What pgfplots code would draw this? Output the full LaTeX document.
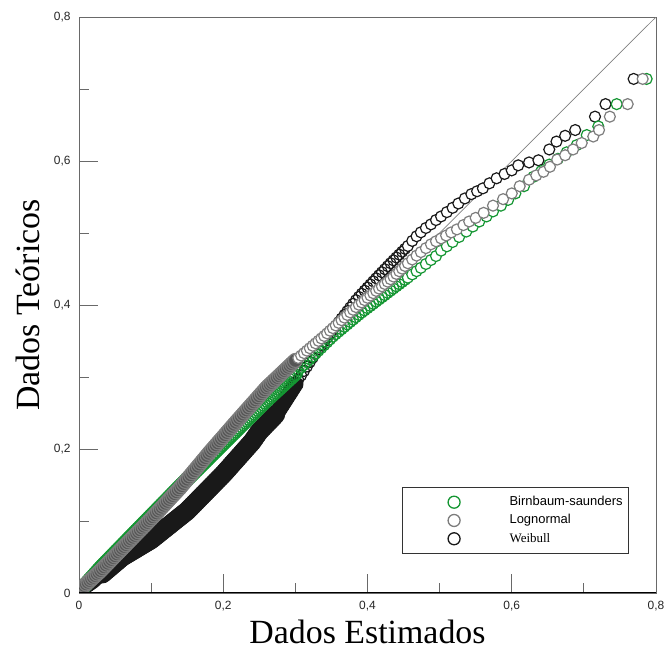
\documentclass[border=0pt]{standalone}
\usepackage{pgfplots}
\pgfplotsset{compat=1.18}
\usepackage{fontspec}
\setmainfont{Liberation Serif}
\newfontfamily\arial{Liberation Sans}
\definecolor{bsgreen}{RGB}{20,150,50}
\definecolor{lngray}{RGB}{125,125,125}
\definecolor{lndark}{RGB}{85,85,85}
\definecolor{wbblack}{RGB}{25,25,25}
\definecolor{axgray}{RGB}{105,105,105}
\begin{document}
\begin{tikzpicture}
\useasboundingbox (0,0) rectangle (665bp,651bp);
\begin{axis}[
  at={(79bp,58bp)}, anchor=south west,
  scale only axis, width=577bp, height=576bp,
  xmin=0, xmax=0.8, ymin=0, ymax=0.8,
  axis line style={color=axgray, line width=1bp},
  tick pos=left, tick align=inside,
  xtick={0,0.2,0.4,0.6,0.8}, ytick={0,0.2,0.4,0.6,0.8},
  xticklabels={0,{0,2},{0,4},{0,6},{0,8}},
  yticklabels={0,{0,2},{0,4},{0,6},{0,8}},
  minor xtick={0.1,0.3,0.5,0.7}, minor ytick={0.1,0.3,0.5,0.7},
  major tick length=19bp, minor tick length=10bp,
  every tick/.style={color=axgray, line width=1bp},
  tick label style={font=\arial\fontsize{12}{14}\selectfont, color=black!85},
  xticklabel style={yshift=-5bp},
  yticklabel style={xshift=-5bp},
  xlabel={Dados Estimados}, ylabel={Dados Teóricos},
  label style={font=\fontsize{34}{40}\selectfont},
  xlabel style={at={(axis description cs:0.5,-0.0885)}, anchor=base},
  ylabel style={at={(axis description cs:-0.0676,0.5)}, anchor=base},
  clip=true, clip marker paths=true,
  legend image code/.code={\path[draw=none] (0bp,0bp) -- (56.5bp,0bp); \draw[#1] plot coordinates {(48bp,0bp)};},
  legend style={at={(axis cs:0.4474,0.1468)}, anchor=north west,
    draw=black!80, line width=0.8bp, inner xsep=4bp, inner ysep=6bp,
    column sep=45bp, row sep=1.3bp, font=\fontsize{13}{15}\selectfont,
    nodes={text height=10bp, text depth=3bp}},
  legend cell align=left,
  dense/.style 2 args={only marks, mark=o, mark size=#2, mark options={draw=#1, line width=1.2bp}, forget plot},
  solid/.style n args={3}{only marks, mark=*, mark size=#3, mark options={draw=#1, fill=#2, line width=1.2bp}, forget plot},
  sparse/.style={only marks, mark=*, mark size=5.5bp, mark options={draw=#1, fill=white, line width=1.2bp}, forget plot},
]
% diagonal reference line
\addplot[color=gray, line width=0.7bp, forget plot] coordinates {(0,0) (0.8,0.8)};

% Weibull
\addplot[solid={wbblack}{wbblack}{6bp}] coordinates {
(0.0025,0.003) (0.005,0.0047) (0.0075,0.0065) (0.010,0.0082) (0.0125,0.0099) (0.015,0.0116) (0.0175,0.0134) (0.020,0.0151) (0.0225,0.0174) (0.025,0.0198) (0.0275,0.0222) (0.030,0.0245)
};
\addplot[solid={wbblack}{wbblack}{9bp}] coordinates {
(0.0325,0.0266) (0.035,0.0288) (0.0375,0.0309) (0.040,0.033) (0.0425,0.0351) (0.045,0.0373) (0.0475,0.0394) (0.050,0.0415)
(0.0525,0.0436) (0.055,0.0458) (0.0575,0.0479) (0.060,0.050) (0.0625,0.0515) (0.065,0.053) (0.0675,0.0545) (0.070,0.056) (0.0725,0.0575) (0.075,0.059) (0.0775,0.0605) (0.080,0.062) (0.0825,0.0635) (0.085,0.065) (0.0875,0.0665) (0.090,0.068) (0.0925,0.0695) (0.095,0.071) (0.0975,0.0725) (0.100,0.074)
(0.1025,0.076) (0.105,0.078) (0.1075,0.080) (0.110,0.082) (0.1125,0.084) (0.115,0.086) (0.1175,0.088) (0.120,0.090) (0.1225,0.092) (0.125,0.094) (0.1275,0.096) (0.130,0.098) (0.1325,0.100) (0.135,0.102) (0.1375,0.104) (0.140,0.106) (0.1425,0.108) (0.145,0.110) (0.1475,0.112) (0.150,0.114)
(0.1525,0.1166) (0.155,0.1191) (0.1575,0.1217) (0.160,0.1242) (0.1625,0.1268) (0.165,0.1293) (0.1675,0.1319) (0.170,0.1344) (0.1725,0.137) (0.175,0.1395) (0.1775,0.1421) (0.180,0.1446) (0.1825,0.1472) (0.185,0.1497) (0.1875,0.1523) (0.190,0.1548) (0.1925,0.1574) (0.195,0.1599) (0.1975,0.1625) (0.200,0.165)
(0.2025,0.1678) (0.205,0.1706) (0.2075,0.1734) (0.210,0.1763) (0.2125,0.1791) (0.215,0.1819) (0.2175,0.1847) (0.220,0.1875) (0.2225,0.1903) (0.225,0.1931) (0.2275,0.1959) (0.230,0.1988) (0.2325,0.2016) (0.235,0.2044) (0.2375,0.2072) (0.240,0.210)
(0.2425,0.2136) (0.245,0.2172) (0.2475,0.2208) (0.250,0.2243) (0.2525,0.2269) (0.255,0.2295) (0.2575,0.2321) (0.260,0.2347) (0.2625,0.2373) (0.265,0.2398) (0.2675,0.2424) (0.270,0.245) (0.2725,0.2479)
};
\addplot[solid={wbblack}{wbblack}{7.5bp}] coordinates {
(0.275,0.2508) (0.2775,0.2547) (0.280,0.2587) (0.2825,0.2626) (0.285,0.2665) (0.2875,0.2704) (0.290,0.2743) (0.2925,0.2782) (0.295,0.2822) (0.2975,0.2861) (0.300,0.290)
};
\addplot[dense={wbblack}{5.5bp}] coordinates {
(0.304,0.2961) (0.308,0.3023) (0.312,0.3084) (0.316,0.3145) (0.320,0.3207) (0.324,0.3268) (0.328,0.3329) (0.332,0.3387) (0.336,0.344) (0.340,0.3493) (0.344,0.3547) (0.348,0.360) (0.352,0.3653) (0.356,0.3707) (0.360,0.376)
(0.364,0.3811) (0.368,0.3862) (0.372,0.3914) (0.376,0.3965) (0.380,0.4016) (0.384,0.4067) (0.388,0.4112) (0.392,0.4156) (0.396,0.4199) (0.400,0.4242) (0.404,0.4285) (0.408,0.4328)
(0.412,0.4371) (0.416,0.4413) (0.420,0.4455) (0.424,0.4497) (0.428,0.4539) (0.432,0.458) (0.436,0.462) (0.440,0.466) (0.444,0.470) (0.448,0.474) (0.452,0.478)
};
\addplot[sparse=wbblack] coordinates {
(0.456,0.482) (0.462,0.489) (0.468,0.4955) (0.474,0.501) (0.481,0.507) (0.488,0.512) (0.495,0.518)
(0.502,0.523) (0.510,0.529) (0.518,0.535) (0.526,0.541) (0.535,0.548) (0.544,0.554) (0.552,0.558)
(0.560,0.562) (0.569,0.569) (0.579,0.576) (0.590,0.582) (0.600,0.587) (0.609,0.594) (0.624,0.598)
(0.637,0.601) (0.652,0.616) (0.662,0.627) (0.674,0.635) (0.688,0.643) (0.7154,0.6616) (0.730,0.679) (0.769,0.714)
};

% Birnbaum-Saunders
\addplot[dense={bsgreen}{7bp}] coordinates {
(0.0025,0.0043) (0.005,0.0071) (0.0075,0.0099) (0.010,0.0127) (0.0125,0.0155) (0.015,0.0183) (0.0175,0.021) (0.020,0.0238) (0.0225,0.0266) (0.025,0.0294) (0.0275,0.0322) (0.030,0.035)
(0.0325,0.0376) (0.035,0.0402) (0.0375,0.0428) (0.040,0.0453) (0.0425,0.0479) (0.045,0.0505) (0.0475,0.0531) (0.050,0.0557) (0.0525,0.0583) (0.055,0.0608) (0.0575,0.0634) (0.060,0.066)
(0.0625,0.0686) (0.065,0.0711) (0.0675,0.0737) (0.070,0.0763) (0.0725,0.0788) (0.075,0.0814) (0.0775,0.084) (0.080,0.0865) (0.0825,0.0891) (0.085,0.0916) (0.0875,0.0942) (0.090,0.0968) (0.0925,0.0993) (0.095,0.1019) (0.0975,0.1045) (0.100,0.107)
(0.1025,0.1096) (0.105,0.1121) (0.1075,0.1147) (0.110,0.1173) (0.1125,0.1198) (0.115,0.1224) (0.1175,0.125) (0.120,0.1275) (0.1225,0.1301) (0.125,0.1326) (0.1275,0.1352) (0.130,0.1378) (0.1325,0.1403) (0.135,0.1429) (0.1375,0.1455) (0.140,0.148)
(0.1425,0.1505) (0.145,0.153) (0.1475,0.1555) (0.150,0.158) (0.1525,0.1605) (0.155,0.163) (0.1575,0.1655) (0.160,0.168) (0.1625,0.1705) (0.165,0.173) (0.1675,0.1755) (0.170,0.178) (0.1725,0.1805) (0.175,0.183) (0.1775,0.1855) (0.180,0.188)
(0.1825,0.1905) (0.185,0.193) (0.1875,0.1955) (0.190,0.198) (0.1925,0.2005) (0.195,0.203) (0.1975,0.2055) (0.200,0.208) (0.2025,0.2105) (0.205,0.213) (0.2075,0.2155) (0.210,0.218) (0.2125,0.2205) (0.215,0.223) (0.2175,0.2255) (0.220,0.228)
(0.2225,0.2305) (0.225,0.233) (0.2275,0.2355) (0.230,0.238) (0.2325,0.2405) (0.235,0.243) (0.2375,0.2455) (0.240,0.248) (0.2425,0.2505) (0.245,0.253) (0.2475,0.2555) (0.250,0.258) (0.2525,0.2605) (0.255,0.263) (0.2575,0.2655) (0.260,0.268)
(0.2625,0.2703) (0.265,0.2726) (0.2675,0.275) (0.270,0.2773) (0.2725,0.2796) (0.275,0.2819) (0.2775,0.2842) (0.280,0.2865) (0.2825,0.2888) (0.285,0.2911) (0.2875,0.2935) (0.290,0.2958) (0.2925,0.2981) (0.295,0.3004) (0.2975,0.3027) (0.300,0.305)
};
\addplot[dense={bsgreen}{5.5bp}] coordinates {
(0.304,0.3089) (0.308,0.3128) (0.312,0.3168) (0.316,0.3207) (0.320,0.3246) (0.324,0.3285) (0.328,0.3325) (0.332,0.3364) (0.336,0.3403) (0.340,0.3443) (0.344,0.3482) (0.348,0.3521) (0.352,0.356)
(0.356,0.3595) (0.360,0.3629) (0.364,0.3662) (0.368,0.3696) (0.372,0.3729) (0.376,0.3763) (0.380,0.3796) (0.384,0.383) (0.388,0.3863)
(0.392,0.3895) (0.396,0.3925) (0.400,0.3956) (0.404,0.3986) (0.408,0.4016) (0.412,0.4047) (0.416,0.4077) (0.420,0.4107) (0.424,0.4137) (0.428,0.4168) (0.432,0.4198) (0.436,0.4228) (0.440,0.4259) (0.444,0.4289) (0.448,0.4319) (0.452,0.4349)
};
\addplot[sparse=bsgreen] coordinates {
(0.456,0.438) (0.462,0.4425) (0.468,0.447) (0.474,0.4516) (0.481,0.457) (0.488,0.4625) (0.495,0.468)
(0.502,0.4755) (0.510,0.4815) (0.518,0.4875) (0.527,0.4945) (0.537,0.502) (0.546,0.509) (0.555,0.516)
(0.565,0.523) (0.574,0.530) (0.585,0.538) (0.595,0.546) (0.605,0.555) (0.617,0.565) (0.630,0.578)
(0.641,0.586) (0.652,0.595) (0.664,0.603) (0.676,0.612) (0.690,0.622) (0.704,0.636) (0.720,0.648) (0.7455,0.679) (0.787,0.714)
};

% Lognormal
\addplot[solid={lngray}{lndark}{7bp}] coordinates {
(0.0025,0.0056) (0.005,0.0079) (0.0075,0.0102) (0.010,0.0125) (0.0125,0.0148) (0.015,0.0172) (0.0175,0.0195) (0.020,0.0218) (0.0225,0.0241) (0.025,0.0264) (0.0275,0.0287) (0.030,0.031)
(0.0325,0.0336) (0.035,0.0362) (0.0375,0.0388) (0.040,0.0413) (0.0425,0.0439) (0.045,0.0465) (0.0475,0.0491) (0.050,0.0517) (0.0525,0.0543) (0.055,0.0568) (0.0575,0.0594) (0.060,0.062)
(0.0625,0.0646) (0.065,0.0671) (0.0675,0.0697) (0.070,0.0723) (0.0725,0.0748) (0.075,0.0774) (0.0775,0.080) (0.080,0.0825) (0.0825,0.0851) (0.085,0.0876) (0.0875,0.0902) (0.090,0.0928) (0.0925,0.0953) (0.095,0.0979) (0.0975,0.1005) (0.100,0.103)
(0.1025,0.1057) (0.105,0.1084) (0.1075,0.1111) (0.110,0.1138) (0.1125,0.1164) (0.115,0.1191) (0.1175,0.1218) (0.120,0.1245) (0.1225,0.1272) (0.125,0.1299) (0.1275,0.1326) (0.130,0.1353) (0.1325,0.1379) (0.135,0.1406) (0.1375,0.1433) (0.140,0.146)
(0.1425,0.149) (0.145,0.152) (0.1475,0.155) (0.150,0.158) (0.1525,0.161) (0.155,0.164) (0.1575,0.167) (0.160,0.170) (0.1625,0.173) (0.165,0.176) (0.1675,0.179) (0.170,0.182) (0.1725,0.185) (0.175,0.188) (0.1775,0.191) (0.180,0.194)
(0.1825,0.1969) (0.185,0.1998) (0.1875,0.2026) (0.190,0.2055) (0.1925,0.2084) (0.195,0.2113) (0.1975,0.2141) (0.200,0.217) (0.2025,0.2199) (0.205,0.2228) (0.2075,0.2256) (0.210,0.2285) (0.2125,0.2314) (0.215,0.2343) (0.2175,0.2371) (0.220,0.240)
(0.2225,0.2428) (0.225,0.2456) (0.2275,0.2484) (0.230,0.2513) (0.2325,0.2541) (0.235,0.2569) (0.2375,0.2597) (0.240,0.2625) (0.2425,0.2653) (0.245,0.2681) (0.2475,0.2709) (0.250,0.2738) (0.2525,0.2766) (0.255,0.2794) (0.2575,0.2822) (0.260,0.285)
(0.2625,0.2874) (0.265,0.2898) (0.2675,0.2921) (0.270,0.2945) (0.2725,0.2969) (0.275,0.2993) (0.2775,0.3016) (0.280,0.304) (0.2825,0.3064) (0.285,0.3088) (0.2875,0.3111) (0.290,0.3135) (0.2925,0.3159) (0.295,0.3183) (0.2975,0.3206) (0.300,0.323)
};
\addplot[sparse=lngray] coordinates {
(0.304,0.3264) (0.308,0.3298) (0.312,0.3332) (0.316,0.3366) (0.320,0.340) (0.324,0.3434) (0.328,0.3468) (0.332,0.3502) (0.336,0.3536) (0.340,0.357)
(0.344,0.3606) (0.348,0.3643) (0.352,0.3679) (0.356,0.3716) (0.360,0.3752) (0.364,0.3789) (0.368,0.3825) (0.372,0.3862) (0.376,0.3898) (0.380,0.3934) (0.384,0.3971)
(0.388,0.4004) (0.392,0.4036) (0.396,0.4068) (0.400,0.410) (0.404,0.4132) (0.408,0.4164) (0.412,0.4196) (0.416,0.4228) (0.420,0.426) (0.424,0.4292) (0.428,0.4324)
(0.432,0.4358) (0.436,0.4395) (0.440,0.4432) (0.444,0.4469) (0.448,0.4505) (0.452,0.4542)
(0.456,0.458) (0.462,0.4632) (0.468,0.4686) (0.474,0.4735) (0.481,0.479) (0.488,0.4843) (0.495,0.4885)
(0.502,0.4925) (0.509,0.4965) (0.516,0.5008) (0.524,0.505) (0.533,0.511) (0.541,0.516) (0.550,0.521)
(0.561,0.528) (0.574,0.538) (0.588,0.547) (0.600,0.555) (0.611,0.565) (0.624,0.574) (0.634,0.580)
(0.644,0.585) (0.653,0.592) (0.663,0.602) (0.674,0.608) (0.685,0.616) (0.697,0.625) (0.713,0.634)
(0.721,0.643) (0.736,0.6616) (0.7607,0.679) (0.7815,0.714)
};

\addlegendimage{only marks, mark=*, mark options={draw=bsgreen, fill=white, line width=1.3bp}, mark size=6bp}
\addlegendentry{\arial Birnbaum-saunders}
\addlegendimage{only marks, mark=*, mark options={draw=lngray, fill=white, line width=1.3bp}, mark size=6bp}
\addlegendentry{\arial Lognormal}
\addlegendimage{only marks, mark=*, mark options={draw=wbblack, fill=white, line width=1.3bp}, mark size=6bp}
\addlegendentry{Weibull}

\draw[black, line width=1.2bp] (rel axis cs:0,0) -- (rel axis cs:1,0);
\end{axis}
\end{tikzpicture}
\end{document}
